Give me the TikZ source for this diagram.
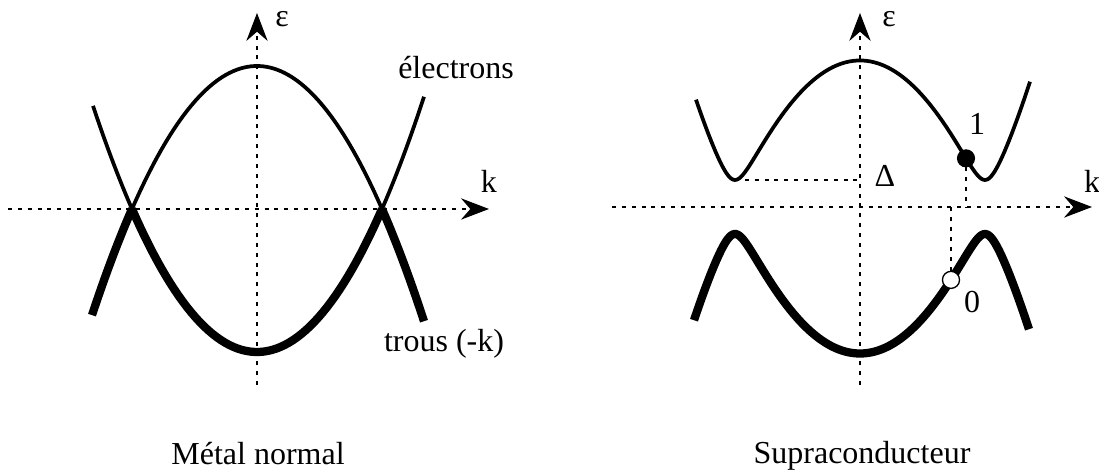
\documentclass[tikz,border=0pt]{standalone}
\usepackage{fontspec}
\setmainfont{Liberation Serif}
\usetikzlibrary{arrows.meta}
\tikzset{
  axis/.style={dash pattern=on 1.5pt off 2.2pt,line width=0.4pt,-{Stealth[length=10.5pt,width=8pt,inset=3.5pt]}},
  guide/.style={dash pattern=on 1.5pt off 2.2pt,line width=0.4pt},
  band/.style={line width=1.4pt},
  bandthick/.style={line width=3.1pt},
  fdot/.style={circle,draw,fill=black,inner sep=0pt,minimum size=6.4pt},
  odot/.style={circle,draw,fill=white,inner sep=0pt,minimum size=6.4pt,line width=0.5pt},
  lbl/.style={inner sep=0pt,anchor=base,font=\fontsize{12}{14}\selectfont}
}

\begin{document}
\begin{tikzpicture}[x=0.375pt,y=0.375pt,
  declare function={par(\k)=143*((\k/125)*(\k/125)-1);
    xi(\k)=144*(1-(\k/125)*(\k/125));
    en(\k)=10*sqrt(xi(\k)/10*xi(\k)/10+7.29);}]
\useasboundingbox (0,0) rectangle (1099,470);

% metal normal
\begin{scope}[shift={(257,261)}]
\coordinate (oL) at (0,0);
\coordinate (kaL) at (-249,0);
\coordinate (kbL) at (232,0);
\coordinate (eaL) at (0,-176);
\coordinate (ebL) at (0,196);
\draw[axis] (kaL) -- (kbL);
\draw[axis] (eaL) -- (ebL);
% electrons
\draw[band] plot[domain=-164:-125,samples=20] (\x,{par(\x)});
\draw[bandthick] plot[domain=-125:125,samples=60] (\x,{par(\x)});
\draw[band] plot[domain=125:167,samples=20] (\x,{par(\x)});
% trous
\draw[bandthick] plot[domain=-165:-125,samples=20] (\x,{-par(\x)});
\draw[band] plot[domain=-125:125,samples=60] (\x,{-par(\x)});
\draw[bandthick] plot[domain=125:167,samples=20] (\x,{-par(\x)});
\node[lbl] (epsL) at (25,182) {ε};
\node[lbl] (kL) at (232,16) {k};
\node[lbl] (elec) at (199,130) {électrons};
\node[lbl] (trous) at (187,-143) {trous (-k)};
\node[lbl] (metal) at (1,-256) {Métal normal};
\end{scope}

% supraconducteur
\begin{scope}[shift={(860,263)}]
\coordinate (oR) at (0,0);
\coordinate (kaR) at (-248,0);
\coordinate (kbR) at (232,0);
\coordinate (eaR) at (0,-178);
\coordinate (ebR) at (0,194);
\coordinate (gapmin) at (-125,27);
\draw[axis] (kaR) -- (kbR);
\draw[axis] (eaR) -- (ebR);
\draw[guide] (gapmin) -- (gapmin -| oR);
\draw[band] plot[domain=-164:170,samples=200] (\x,{en(\x)});
\draw[bandthick] plot[domain=-166:169,samples=200] (\x,{-en(\x)});
\node[fdot] (un) at (106,{en(106)}) {};
\node[odot] (zero) at (91,{-en(91)}) {};
\draw[guide] (un.south) -- (un |- oR);
\draw[guide] (zero.north) -- (zero |- oR);
\node[lbl] (epsR) at (29,180) {ε};
\node[lbl] (kR) at (232,14) {k};
\node[lbl] (gap) at (25,20) {Δ};
\node[lbl] (lun) at (117,72) {1};
\node[lbl] (lzero) at (112,-106) {0};
\node[lbl] (supra) at (2,-257) {Supraconducteur};
\end{scope}
\end{tikzpicture}
\end{document}
